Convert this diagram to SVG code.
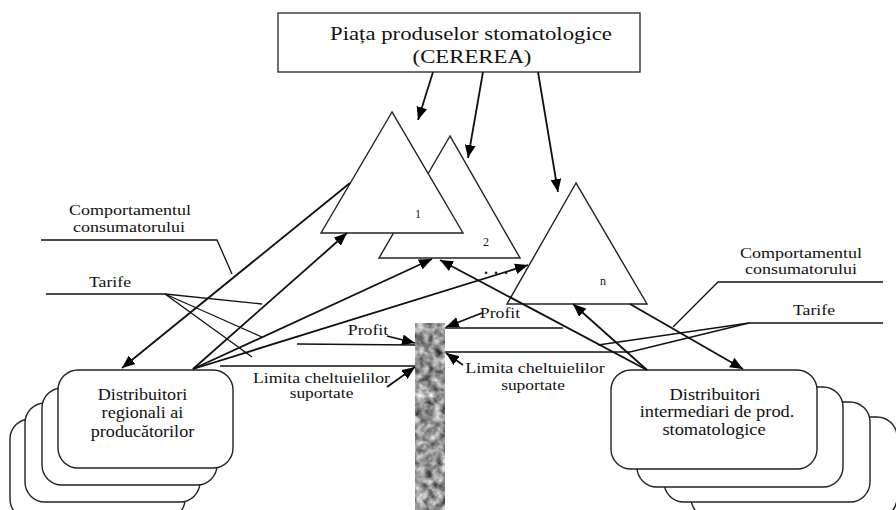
<svg xmlns="http://www.w3.org/2000/svg" width="896" height="510" viewBox="0 0 896 510">
<style>
text{font-family:"Liberation Serif","DejaVu Serif","Times New Roman",serif;fill:#111;text-anchor:middle}
.f18{font-size:18px}
.f16{font-size:16px}
.f15{font-size:15px}
.f12{font-size:12px;text-anchor:start}
.box{fill:#fff;stroke:#222;stroke-width:1.4}
.tri{fill:#fff;stroke:#222;stroke-width:1.4}
.ln{fill:none;stroke:#111;stroke-width:1.3}
.ar{fill:none;stroke:#111;stroke-width:1.8;marker-end:url(#ah)}
</style>
<defs>
<marker id="ah" viewBox="0 0 12 10" refX="12" refY="5" markerWidth="13" markerHeight="11" markerUnits="userSpaceOnUse" orient="auto">
<path d="M0,0 L12,5 L0,10 z" fill="#000"/>
</marker>
<filter id="grain" x="0" y="0" width="100%" height="100%" color-interpolation-filters="sRGB">
<feTurbulence type="fractalNoise" baseFrequency="0.12" numOctaves="3" seed="7" result="n"/>
<feColorMatrix in="n" type="matrix" values="1.0 0.4 0.3 0 -0.26  1.0 0.4 0.3 0 -0.26  1.0 0.4 0.3 0 -0.26  0 0 0 0 1" result="g"/>
<feComposite in="g" in2="SourceGraphic" operator="in"/>
</filter>
</defs>
<rect width="896" height="510" fill="#fff"/>

<g id="piata">
<rect x="278" y="13" width="362" height="59" fill="#fff" stroke="#333" stroke-width="1.4"/>
<text class="f18" transform="matrix(1.265 0 0 1 471 40)">Piața produselor stomatologice</text>
<text class="f18" transform="matrix(1.265 0 0 1 472 63)">(CEREREA)</text>
</g>

<g id="triangle-2">
<polygon class="tri" points="450,136 379,258 520,258"/>
<text class="f12" x="483" y="246">2</text>
</g>
<g id="triangle-1">
<polygon class="tri" points="392,112 321,233 463,233"/>
<text class="f12" x="415" y="218">1</text>
</g>
<g id="triangle-n">
<polygon class="tri" points="576,183 507,304 647,304"/>
<text class="f12" x="600" y="285">n</text>
</g>
<g id="dots">
<text font-size="20" x="496" y="274">. . .</text>
</g>

<g id="bariera">
<rect x="415" y="323" width="30" height="190" fill="#999" filter="url(#grain)"/>
</g>

<g id="distribuitori-regionali">
<rect class="box" x="10" y="419" width="175" height="100" rx="20"/>
<rect class="box" x="25" y="403" width="175" height="99" rx="20"/>
<rect class="box" x="42" y="388" width="175" height="97" rx="20"/>
<rect class="box" x="58" y="370" width="175" height="98" rx="20"/>
<text class="f16" transform="matrix(1.13 0 0 1 142.5 400)">Distribuitori</text>
<text class="f16" transform="matrix(1.13 0 0 1 142.5 418)">regionali ai</text>
<text class="f16" transform="matrix(1.13 0 0 1 142.5 437)">producătorilor</text>
</g>

<g id="distribuitori-intermediari">
<rect class="box" x="691" y="417" width="206" height="101" rx="20"/>
<rect class="box" x="664" y="402" width="206" height="100" rx="20"/>
<rect class="box" x="637" y="387" width="206" height="100" rx="20"/>
<rect class="box" x="611" y="370" width="206" height="99" rx="20"/>
<text class="f16" transform="matrix(1.15 0 0 1 715 400)">Distribuitori</text>
<text class="f16" transform="matrix(1.15 0 0 1 717 417)">intermediari de prod.</text>
<text class="f16" transform="matrix(1.15 0 0 1 714 435)">stomatologice</text>
</g>

<g id="labels">
<text class="f15" transform="matrix(1.2 0 0 1 130 215)">Comportamentul</text>
<text class="f15" transform="matrix(1.2 0 0 1 129 232)">consumatorului</text>
<text class="f15" transform="matrix(1.18 0 0 1 110 287)">Tarife</text>
<text class="f15" transform="matrix(1.18 0 0 1 368 335)">Profit</text>
<text class="f15" transform="matrix(1.18 0 0 1 321.5 383)">Limita cheltuielilor</text>
<text class="f15" transform="matrix(1.16 0 0 1 321.5 398)">suportate</text>
<text class="f15" transform="matrix(1.18 0 0 1 500 318)">Profit</text>
<text class="f15" transform="matrix(1.2 0 0 1 535 373)">Limita cheltuielilor</text>
<text class="f15" transform="matrix(1.16 0 0 1 533 390)">suportate</text>
<text class="f15" transform="matrix(1.2 0 0 1 801 258)">Comportamentul</text>
<text class="f15" transform="matrix(1.2 0 0 1 801 274)">consumatorului</text>
<text class="f15" transform="matrix(1.18 0 0 1 814 315)">Tarife</text>
</g>

<g id="connectors">
<line class="ar" x1="433" y1="72" x2="418" y2="120"/>
<line class="ar" x1="483" y1="72" x2="468" y2="158"/>
<line class="ar" x1="538" y1="72" x2="558" y2="192"/>
<line class="ar" x1="350" y1="183" x2="122" y2="368"/>
<line class="ar" x1="193" y1="369" x2="347" y2="233"/>
<line class="ar" x1="193" y1="369" x2="432" y2="259"/>
<line class="ar" x1="193" y1="369" x2="528" y2="265"/>
<line class="ar" x1="647" y1="370" x2="573" y2="304"/>
<line class="ar" x1="647" y1="370" x2="440" y2="260"/>
<line class="ar" x1="630" y1="304" x2="743" y2="369"/>
<line class="ar" x1="387" y1="336" x2="415" y2="343"/>
<line class="ar" x1="387" y1="387" x2="415" y2="367"/>
<line class="ar" x1="482" y1="313" x2="446" y2="327"/>
<line class="ar" x1="463" y1="365" x2="446" y2="353"/>
<polyline class="ln" points="41,240 217,240 232,274"/>
<polyline class="ln" points="46,294 165,294 262,304"/>
<line class="ln" x1="165" y1="294" x2="262" y2="337"/>
<line class="ln" x1="165" y1="294" x2="252" y2="357"/>
<line class="ln" x1="297" y1="344" x2="415" y2="345"/>
<line class="ln" x1="220" y1="366" x2="415" y2="366"/>
<line class="ln" x1="445" y1="328" x2="563" y2="328"/>
<line class="ln" x1="445" y1="352" x2="630" y2="352"/>
<polyline class="ln" points="883,282 718,282 673,327"/>
<polyline class="ln" points="883,323 749,323 598,345"/>
<line class="ln" x1="749" y1="323" x2="630" y2="352"/>
</g>
</svg>
